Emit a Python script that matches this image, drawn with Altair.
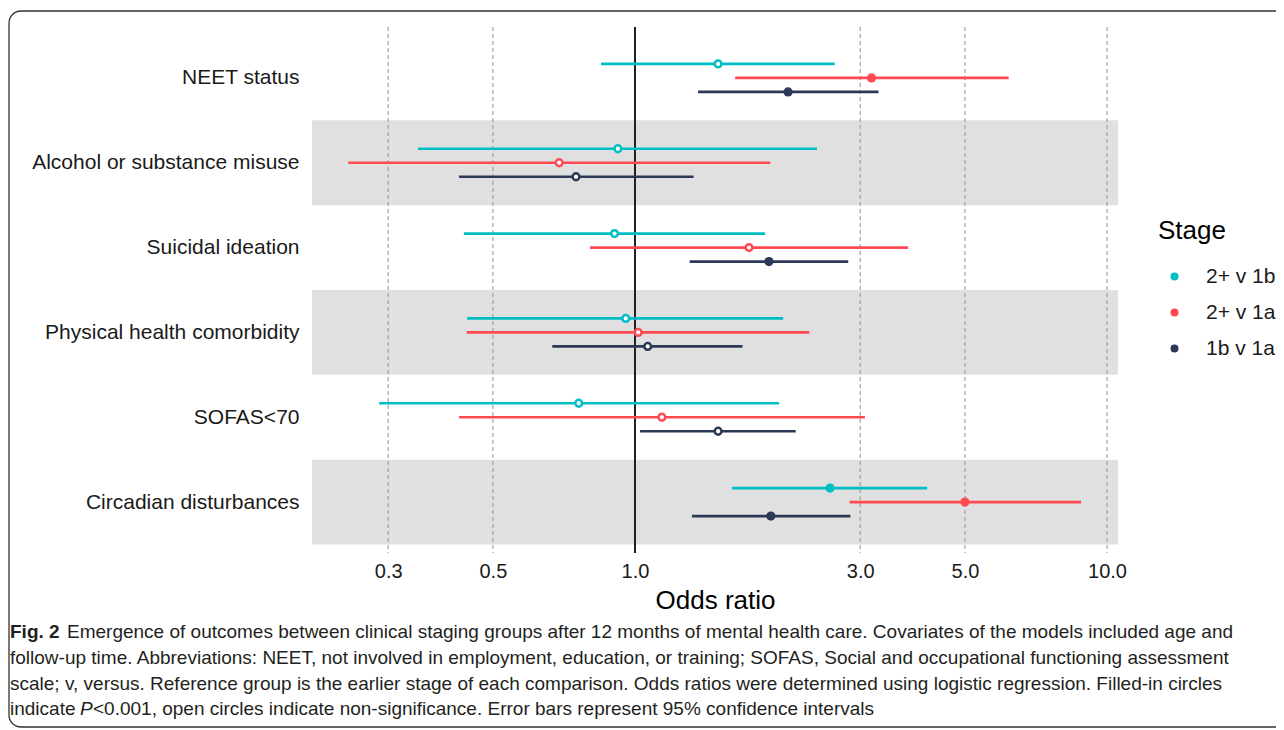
import json
import altair as alt
import pandas as pd

# ---------------- data ----------------
outcomes = ["NEET status", "Alcohol or substance misuse", "Suicidal ideation",
            "Physical health comorbidity", "SOFAS<70", "Circadian disturbances"]
stages = ["2+ v 1b", "2+ v 1a", "1b v 1a"]

or_2p_1b = [1.50, 0.92, 0.905, 0.956, 0.760, 2.59]
lo_2p_1b = [0.847, 0.347, 0.434, 0.441, 0.287, 1.605]
hi_2p_1b = [2.65, 2.43, 1.886, 2.06, 2.02, 4.16]
sig_2p_1b = [False, False, False, False, False, True]

or_2p_1a = [3.17, 0.691, 1.744, 1.016, 1.14, 5.0]
lo_2p_1a = [1.63, 0.247, 0.803, 0.440, 0.424, 2.85]
hi_2p_1a = [6.19, 1.935, 3.79, 2.34, 3.07, 8.81]
sig_2p_1a = [True, False, False, False, False, True]

or_1b_1a = [2.11, 0.750, 1.922, 1.064, 1.50, 1.94]
lo_1b_1a = [1.36, 0.424, 1.306, 0.668, 1.025, 1.32]
hi_1b_1a = [3.28, 1.331, 2.83, 1.69, 2.19, 2.86]
sig_1b_1a = [True, False, True, False, False, True]

x_ticks = [0.3, 0.5, 1.0, 3.0, 5.0, 10.0]

caption_l1 = ("Emergence of outcomes between clinical staging groups after 12 months of "
              "mental health care. Covariates of the models included age and")
caption_l2 = ("follow-up time. Abbreviations: NEET, not involved in employment, education, "
              "or training; SOFAS, Social and occupational functioning assessment")
caption_l3 = ("scale; v, versus. Reference group is the earlier stage of each comparison. "
              "Odds ratios were determined using logistic regression. Filled-in circles")
caption_l4 = "<0.001, open circles indicate non-significance. Error bars represent 95% confidence intervals"

# ---------------- styling ----------------
colors = ["#00BFC4", "#FF4A52", "#2B3856"]
offsets = {"2+ v 1b": -0.165, "2+ v 1a": 0.0, "1b v 1a": 0.165}
W, H = 806, 526
FONT = "Liberation Sans"
CAP_FONT = "Liberation Sans"
CAP_SIZE = 19
CAP_COLOR = "#231F20"

series = {
    "2+ v 1b": (or_2p_1b, lo_2p_1b, hi_2p_1b, sig_2p_1b),
    "2+ v 1a": (or_2p_1a, lo_2p_1a, hi_2p_1a, sig_2p_1a),
    "1b v 1a": (or_1b_1a, lo_1b_1a, hi_1b_1a, sig_1b_1a),
}
rows = []
for st in stages:
    o, l, h, s = series[st]
    for i, name in enumerate(outcomes):
        rows.append(dict(outcome=name, idx=i + 1, stage=st, OR=o[i], lo=l[i], hi=h[i],
                         sig=s[i], ypos=i + 1 + offsets[st]))
df = pd.DataFrame(rows)

bands = pd.DataFrame([dict(y1=i + 0.5, y2=i + 1.5) for i in range(len(outcomes)) if i % 2 == 1])
grid = pd.DataFrame({"v": [t for t in x_ticks if t != 1.0]})

xscale = alt.Scale(type="log", domain=[0.2069, 10.55], nice=False)
yscale = alt.Scale(domain=[0.4, 6.6], reverse=True, nice=False, zero=False)
cscale = alt.Scale(domain=stages, range=colors)

label_expr = json.dumps(outcomes) + "[round(datum.value) - 1]"

x_enc_axis = alt.Axis(values=x_ticks, format=".1f", grid=False, domain=False, ticks=False,
                      tickSize=0, labelFontSize=20, labelPadding=8, labelColor="#1a1a1a",
                      title="Odds ratio", titleFontSize=26, titleFontWeight="normal",
                      titlePadding=6, titleColor="#000000", labelFlush=False)
y_enc_axis = alt.Axis(values=list(range(1, len(outcomes) + 1)), labelExpr=label_expr,
                      grid=False, domain=False, ticks=False, tickSize=0, labelFontSize=21,
                      labelPadding=13, labelColor="#1a1a1a", title=None, labelLimit=400)

legend = alt.Legend(
    title="Stage", orient="none", legendX=846, legendY=191, padding=0,
    titleFontSize=26, titleFontWeight="normal", titleColor="#000000", titlePadding=22,
    labelFontSize=21, labelColor="#1a1a1a", symbolType="circle", symbolSize=64,
    symbolStrokeWidth=0, symbolOffset=6, labelOffset=21, rowPadding=14, symbolOpacity=1,
    labelLimit=200)

band_layer = alt.Chart(bands).mark_rect(color="#E0E0E0").encode(
    x=alt.value(0), x2=alt.value(W),
    y=alt.Y("y1:Q", scale=yscale, axis=y_enc_axis), y2="y2:Q")

grid_layer = alt.Chart(grid).mark_rule(color="#9A9A9A", strokeWidth=1.1, strokeDash=[4, 3]).encode(
    x=alt.X("v:Q", scale=xscale, axis=x_enc_axis))

one_layer = alt.Chart(grid).mark_rule(color="#222222", strokeWidth=1.7).encode(
    x=alt.X(datum=1.0, type="quantitative", scale=xscale))

filled_layer = alt.Chart(df).transform_filter("datum.sig").mark_circle(size=85, opacity=1).encode(
    x=alt.X("OR:Q", scale=xscale), y=alt.Y("ypos:Q", scale=yscale),
    color=alt.Color("stage:N", scale=cscale, legend=legend))

err_layer = alt.Chart(df).mark_rule(strokeWidth=2.6).encode(
    x=alt.X("lo:Q", scale=xscale), x2="hi:Q",
    y=alt.Y("ypos:Q", scale=yscale),
    color=alt.Color("stage:N", scale=cscale, legend=legend))

open_layer = alt.Chart(df).transform_filter("!datum.sig").mark_point(
    shape="circle", filled=False, fill="white", fillOpacity=1, size=46, strokeWidth=2.5, opacity=1
).encode(
    x=alt.X("OR:Q", scale=xscale), y=alt.Y("ypos:Q", scale=yscale),
    color=alt.Color("stage:N", scale=cscale, legend=legend))

one = pd.DataFrame({"a": [0]})
frame_layer = alt.Chart(one).mark_rect(fillOpacity=0, stroke="#333333", strokeWidth=1.3,
                                       cornerRadius=12).encode(
    x=alt.value(-303), x2=alt.value(1100), y=alt.value(-16), y2=alt.value(700))


def cap(text, x, y, weight="normal", style="normal"):
    return alt.Chart(one).mark_text(align="left", baseline="middle", font=CAP_FONT,
                                    fontSize=CAP_SIZE, fontWeight=weight, fontStyle=style,
                                    color=CAP_COLOR).encode(
        x=alt.value(x), y=alt.value(y), text=alt.value(text))


caption = [
    cap("Fig. 2", -302, 605, weight="bold"),
    cap(caption_l1, -245, 605),
    cap(caption_l2, -302, 631),
    cap(caption_l3, -302, 657),
    cap("indicate", -302, 682),
    cap("P", -232, 682, style="italic"),
    cap(caption_l4, -219, 682),
]

chart = alt.layer(band_layer, grid_layer, one_layer, err_layer, open_layer, filled_layer,
                  frame_layer, *caption).properties(
    width=W, height=H,
    autosize=alt.AutoSizeParams(type="none"),
    padding={"left": 304, "top": 19, "right": 158, "bottom": 175},
).configure(font=FONT).configure_view(stroke=None)

chart.save("out.html", embed_options={"renderer": "svg", "actions": False})
